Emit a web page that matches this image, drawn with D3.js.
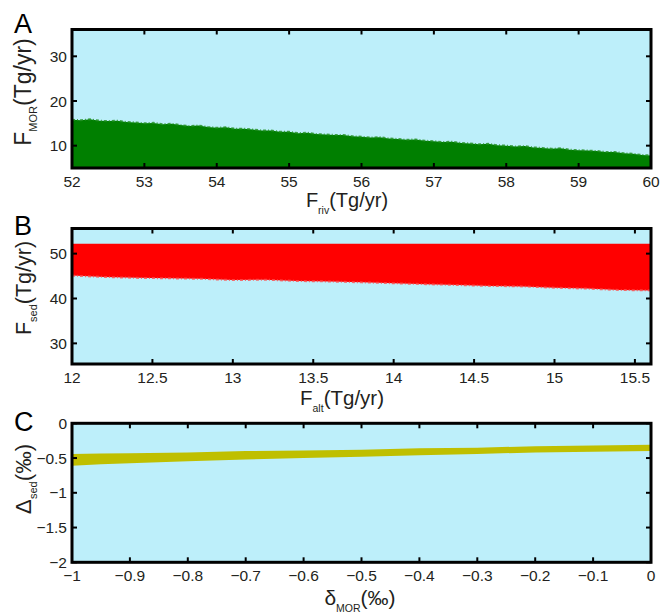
<!DOCTYPE html>
<html>
<head>
<meta charset="utf-8">
<script src="https://cdn.jsdelivr.net/npm/d3@7"></script>
<style>
  html, body { margin: 0; padding: 0; background: #fff; }
  svg { display: block; font-family: "Liberation Sans", Arial, sans-serif; }
</style>
</head>
<body>
<svg id="fig" width="664" height="613"></svg>
<script>
// ---- Panel A: F_MOR versus F_riv (upper envelope of the simulated cloud)
const friv = [52, 52.125, 52.25, 52.375, 52.5, 52.625, 52.75, 52.875,
              53, 53.125, 53.25, 53.375, 53.5, 53.625, 53.75, 53.875,
              54, 54.125, 54.25, 54.375, 54.5, 54.625, 54.75, 54.875,
              55, 55.125, 55.25, 55.375, 55.5, 55.625, 55.75, 55.875,
              56, 56.125, 56.25, 56.375, 56.5, 56.625, 56.75, 56.875,
              57, 57.125, 57.25, 57.375, 57.5, 57.625, 57.75, 57.875,
              58, 58.125, 58.25, 58.375, 58.5, 58.625, 58.75, 58.875,
              59, 59.125, 59.25, 59.375, 59.5, 59.625, 59.75, 59.875, 60];
const fmorTop = [15.8, 15.7, 15.9, 15.6, 15.5, 15.6, 15.3, 15.2,
                 15.0, 15.1, 14.8, 14.9, 14.6, 14.4, 14.5, 14.2,
                 14.0, 14.1, 13.8, 13.8, 13.6, 13.4, 13.4, 13.1,
                 13.1, 12.8, 12.9, 12.6, 12.5, 12.4, 12.4, 12.1,
                 12.0, 11.8, 11.9, 11.6, 11.5, 11.3, 11.4, 11.1,
                 11.0, 10.8, 10.9, 10.6, 10.5, 10.3, 10.4, 10.1,
                 10.0, 9.8, 9.9, 9.6, 9.5, 9.3, 9.4, 9.1,
                 9.0, 8.9, 8.8, 8.6, 8.6, 8.3, 8.2, 7.9, 7.8];
const frivTicks = [52, 53, 54, 55, 56, 57, 58, 59, 60];
const fmorTicks = [10, 20, 30];

// ---- Panel B: F_sed versus F_alt (cloud between a lower edge and a flat top)
const falt = [12, 12.2, 12.4, 12.6, 12.8, 13, 13.2, 13.4, 13.6, 13.8, 14, 14.2,
              14.4, 14.6, 14.8, 15, 15.2, 15.4, 15.6];
const fsedLow = [45.1, 44.8, 44.6, 44.5, 44.4, 44.1, 44.2, 43.9, 43.8, 43.6, 43.4, 43.2,
                 43.0, 42.8, 42.7, 42.4, 42.2, 41.9, 41.8];
const fsedHigh = [52.2, 52.2, 52.2, 52.2, 52.2, 52.2, 52.2, 52.2, 52.2, 52.2, 52.2, 52.2,
                  52.2, 52.2, 52.2, 52.2, 52.2, 52.2, 52.2];
const faltTicks = [12, 12.5, 13, 13.5, 14, 14.5, 15, 15.5];
const fsedTicks = [30, 40, 50];

// ---- Panel C: Delta_sed versus delta_MOR (narrow band)
const dmor = [-1, -0.95, -0.9, -0.8, -0.7, -0.6, -0.5, -0.4, -0.3, -0.2, -0.1, 0];
const dsedHigh = [-0.44, -0.435, -0.43, -0.42, -0.40, -0.39, -0.38, -0.36, -0.35, -0.33, -0.32, -0.31];
const dsedLow  = [-0.61, -0.59, -0.575, -0.545, -0.52, -0.50, -0.48, -0.46, -0.44, -0.42, -0.41, -0.40];
const dmorTicks = [-1, -0.9, -0.8, -0.7, -0.6, -0.5, -0.4, -0.3, -0.2, -0.1, 0];
const dsedTicks = [0, -0.5, -1, -1.5, -2];

const svg = d3.select("#fig");
const LEFT = 72, RIGHT = 651;
const BG = "#bdeffa";
const INK = "#231f20";
const fmtMinus = v => (v < 0 ? "\u2212" + String(-v) : String(v));

function panel(cfg) {
  const x = d3.scaleLinear().domain(cfg.xDomain).range([LEFT, RIGHT]);
  const y = d3.scaleLinear().domain(cfg.yDomain).range([cfg.bottom, cfg.top]);
  const g = svg.append("g");
  const clipId = "clip-" + cfg.letter;
  g.append("clipPath").attr("id", clipId).append("rect")
    .attr("x", LEFT).attr("y", cfg.top).attr("width", RIGHT - LEFT).attr("height", cfg.bottom - cfg.top);

  g.append("rect").attr("x", LEFT).attr("y", cfg.top)
    .attr("width", RIGHT - LEFT).attr("height", cfg.bottom - cfg.top).attr("fill", BG);

  const area = d3.area().x(d => x(d.x)).y0(d => y(d.lo)).y1(d => y(d.hi));
  const pts = cfg.xs.map((v, i) => ({ x: v, lo: cfg.lo[i], hi: cfg.hi[i] }));
  const dg = g.append("g").attr("clip-path", `url(#${clipId})`);
  dg.append("path").datum(pts).attr("d", area).attr("fill", cfg.color);
  // soft fringe along the ragged edge of the cloud
  if (cfg.fringe) {
    const edge = d3.line().x(d => x(d.x)).y(d => y(d[cfg.fringe]));
    dg.append("path").datum(pts).attr("d", edge).attr("fill", "none")
      .attr("stroke", cfg.fringeColor).attr("stroke-width", 2)
      .attr("stroke-dasharray", "3 2 1 2").attr("stroke-opacity", 0.8);
  }

  // inward ticks on all four sides
  const tk = g.append("g").attr("stroke", "#000").attr("stroke-width", 2);
  cfg.xTicks.forEach(t => {
    tk.append("line").attr("x1", x(t)).attr("x2", x(t)).attr("y1", cfg.bottom).attr("y2", cfg.bottom - 5);
    tk.append("line").attr("x1", x(t)).attr("x2", x(t)).attr("y1", cfg.top).attr("y2", cfg.top + 5);
  });
  cfg.yTicks.forEach(t => {
    tk.append("line").attr("x1", LEFT).attr("x2", LEFT + 5).attr("y1", y(t)).attr("y2", y(t));
    tk.append("line").attr("x1", RIGHT).attr("x2", RIGHT - 5).attr("y1", y(t)).attr("y2", y(t));
  });

  g.append("rect").attr("x", LEFT).attr("y", cfg.top)
    .attr("width", RIGHT - LEFT).attr("height", cfg.bottom - cfg.top)
    .attr("fill", "none").attr("stroke", "#000").attr("stroke-width", 3);

  // tick labels
  const tl = g.append("g").attr("fill", INK).attr("font-size", 15.5);
  cfg.xTicks.forEach(t => {
    tl.append("text").attr("x", x(t)).attr("y", cfg.bottom + 18.5)
      .attr("text-anchor", "middle").text(fmtMinus(t));
  });
  cfg.yTicks.forEach(t => {
    tl.append("text").attr("x", LEFT - 5).attr("y", y(t)).attr("dy", "0.36em")
      .attr("text-anchor", "end").text(fmtMinus(t));
  });

  // x-axis title with subscript
  const xt = g.append("text").attr("x", cfg.xLabelX).attr("y", cfg.bottom + cfg.xLabelDy)
    .attr("text-anchor", "middle").attr("fill", INK).attr("font-size", cfg.xLabelSize);
  xt.append("tspan").text(cfg.xLabel[0]);
  xt.append("tspan").attr("font-size", 10.5).attr("dy", 7).text(cfg.xLabel[1]);
  xt.append("tspan").attr("dy", -7).text(cfg.xLabel[2]);

  // y-axis title with subscript (rotated)
  const yt = g.append("text")
    .attr("transform", `translate(${cfg.yLabelX},${cfg.yLabelY}) rotate(-90)`)
    .attr("text-anchor", "middle").attr("fill", INK).attr("font-size", cfg.yLabelSize);
  yt.append("tspan").text(cfg.yLabel[0]);
  yt.append("tspan").attr("font-size", 11).attr("dy", 6).text(cfg.yLabel[1]);
  yt.append("tspan").attr("dy", -6).text(cfg.yLabel[2]);

  // panel letter
  g.append("text").attr("x", 14).attr("y", cfg.letterY).attr("font-size", 27)
    .attr("fill", "#000").text(cfg.letter);
}

panel({
  letter: "A", letterY: 33, top: 29.5, bottom: 168,
  xDomain: [52, 60], yDomain: [5, 36],
  xs: friv, hi: fmorTop, lo: friv.map(() => 0),
  color: "#007f00", fringe: "hi", fringeColor: "#1f8f1f",
  xTicks: frivTicks, yTicks: fmorTicks,
  xLabel: ["F", "riv", "(Tg/yr)"], xLabelX: 347, xLabelDy: 39, xLabelSize: 20,
  yLabel: ["F", "MOR", "(Tg/yr)"], yLabelX: 31, yLabelY: 92, yLabelSize: 23
});

panel({
  letter: "B", letterY: 235, top: 228.5, bottom: 364,
  xDomain: [12, 15.6], yDomain: [25.4, 55.6],
  xs: falt, hi: fsedHigh, lo: fsedLow,
  color: "#ff0000", fringe: "lo", fringeColor: "#ff4a4a",
  xTicks: faltTicks, yTicks: fsedTicks,
  xLabel: ["F", "alt", "(Tg/yr)"], xLabelX: 342, xLabelDy: 41, xLabelSize: 20.5,
  yLabel: ["F", "sed", "(Tg/yr)"], yLabelX: 31, yLabelY: 288, yLabelSize: 21.5
});

panel({
  letter: "C", letterY: 431, top: 423.3, bottom: 562.3,
  xDomain: [-1, 0], yDomain: [-2, 0],
  xs: dmor, hi: dsedHigh, lo: dsedLow,
  color: "#bfbf00", fringe: null,
  xTicks: dmorTicks, yTicks: dsedTicks,
  xLabel: ["\u03b4", "MOR", "(\u2030)"], xLabelX: 360, xLabelDy: 43, xLabelSize: 21,
  yLabel: ["\u0394", "sed", "(\u2030)"], yLabelX: 31, yLabelY: 479, yLabelSize: 22.5
});
</script>
</body>
</html>
